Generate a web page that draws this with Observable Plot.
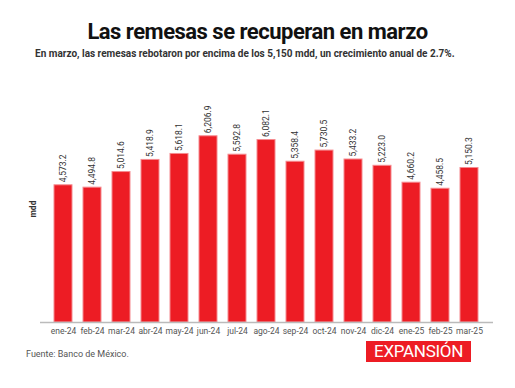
<!DOCTYPE html>
<html>
<head>
<meta charset="utf-8">
<script src="https://cdn.jsdelivr.net/npm/d3@7"></script>
<script src="https://cdn.jsdelivr.net/npm/@observablehq/plot@0.6"></script>
<style>
  body { margin: 0; background: #fff; font-family: Roboto, "Noto Sans", sans-serif; }
  #wrap { position: relative; width: 515px; height: 388px; overflow: hidden; }
  #title { position: absolute; left: 0; width: 515px; top: 19px; text-align: center; font-size: 22px; font-weight: 700; color: #111; letter-spacing: -0.5px; }
  #subtitle { position: absolute; left: 35px; top: 48px; font-size: 10px; font-weight: 700; color: #333; white-space: nowrap; }
  #source { position: absolute; left: 26px; top: 349px; font-size: 9px; color: #555; }
  #logo { position: absolute; left: 366px; top: 341px; width: 105px; height: 21px; background: #ed1c24; color: #fff; font-size: 17px; line-height: 21px; text-align: center; letter-spacing: -0.3px; }
  #chart { position: absolute; left: 0; top: 0; }
</style>
</head>
<body>
<div id="wrap">
  <div id="chart"></div>
  <div id="title">Las remesas se recuperan en marzo</div>
  <div id="subtitle">En marzo, las remesas rebotaron por encima de los 5,150 mdd, un crecimiento anual de 2.7%.</div>
  <div id="source">Fuente: Banco de México.</div>
  <div id="logo">EXPANSIÓN</div>
</div>
<script>
const months = ["ene-24","feb-24","mar-24","abr-24","may-24","jun-24","jul-24","ago-24","sep-24","oct-24","nov-24","dic-24","ene-25","feb-25","mar-25"];
const values = [4573.2, 4494.8, 5014.6, 5418.9, 5618.1, 6206.9, 5592.8, 6082.1, 5358.4, 5730.5, 5433.2, 5223.0, 4660.2, 4458.5, 5150.3];
const yLabel = "mdd";

const data = months.map((m, i) => ({month: m, value: values[i]}));
const fmt = d3.format(",.1f");

const chart = Plot.plot({
  width: 515,
  height: 388,
  marginTop: 112,
  marginBottom: 66,
  marginLeft: 40,
  marginRight: 22,
  style: {fontFamily: "Roboto, sans-serif", background: "transparent"},
  x: {domain: months, padding: 0.37, label: null, tickSize: 0, tickPadding: 5},
  y: {domain: [0, 7000], axis: null},
  marks: [
    Plot.barY(data, {x: "month", y: "value", fill: "#ed1c24", stroke: "#f58a8f", strokeWidth: 1}),
    Plot.ruleY([0], {stroke: "#bbbbbb", strokeWidth: 1.5}),
    Plot.text(data, {x: "month", y: "value", text: d => fmt(d.value), rotate: -90, textAnchor: "start", lineAnchor: "middle", dy: -3, fontSize: 8.5, fill: "#333"}),
    Plot.axisX({tickSize: 0, tickPadding: 5, fontSize: 8.5, color: "#555", label: null}),
    Plot.text([yLabel], {frameAnchor: "left", dx: -7, rotate: -90, text: d => d, fontSize: 8.5, fontWeight: "bold", fill: "#333", lineAnchor: "middle"})
  ]
});
document.getElementById("chart").appendChild(chart);
</script>
</body>
</html>
